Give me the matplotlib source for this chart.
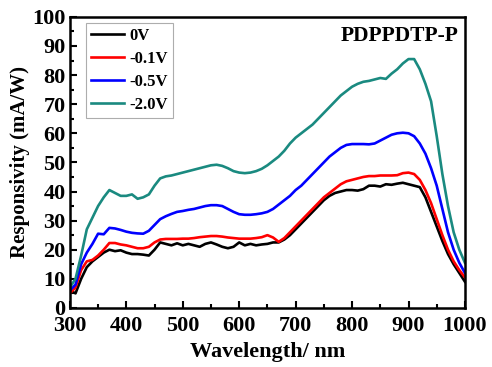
import numpy as np
import matplotlib
matplotlib.use("Agg")
from matplotlib import pyplot as plt
from matplotlib.ticker import MultipleLocator

plt.rcParams['font.family'] = ['Liberation Serif', 'DejaVu Serif']
plt.rcParams['font.weight'] = 'bold'

wavelength = np.arange(300, 1001, 10)

# responsivity in mA/W at each bias
r_0V = [6, 5, 10, 14, 16, 17.5, 19, 20, 19.5, 19.8,
        19, 18.5, 18.5, 18.3, 18, 20, 22.5, 22, 21.5, 22.2,
        21.5, 22, 21.5, 21, 22, 22.5, 21.8, 21, 20.5, 21,
        22.5, 21.5, 22, 21.5, 21.8, 22, 22.5, 22.5, 23.5, 25,
        27, 29, 31, 33, 35, 37, 38.5, 39.5, 40, 40.5,
        40.5, 40.3, 40.8, 42, 42, 41.7, 42.5, 42.3, 42.7, 43,
        42.5, 42, 41.5, 38, 33, 28, 23, 18.5, 15, 12, 9]
r_01V = [5, 7, 13, 16, 16.5, 18, 20, 22.3, 22.3, 21.8,
         21.5, 21, 20.5, 20.5, 21, 22.5, 23.5, 23.7, 23.7, 23.7,
         23.8, 23.8, 24, 24.3, 24.5, 24.7, 24.7, 24.5, 24.2, 24,
         23.8, 23.8, 23.8, 24, 24.3, 25, 24.2, 22.7, 24, 26,
         28, 30, 32, 34, 36, 38, 39.5, 41, 42.5, 43.5,
         44, 44.5, 45, 45.3, 45.3, 45.5, 45.5, 45.5, 45.6, 46.3,
         46.5, 46, 44, 40.5, 36, 30.5, 25, 20, 16, 13, 10.5]
r_05V = [6, 8, 15, 19, 22, 25.5, 25.3, 27.5, 27.3, 26.8,
         26.2, 25.8, 25.6, 25.5, 26.5, 28.5, 30.5, 31.5, 32.3, 33,
         33.3, 33.7, 34, 34.5, 35, 35.3, 35.3, 35, 34, 33,
         32.2, 32, 32, 32.2, 32.5, 33, 34, 35.5, 37, 38.5,
         40.5, 42, 44, 46, 48, 50, 52, 53.5, 55, 56,
         56.3, 56.3, 56.3, 56.2, 56.5, 57.5, 58.5, 59.5, 60, 60.2,
         60, 59, 56.5, 53, 48, 42, 34, 26, 20, 15.5, 12]
r_20V = [7, 10, 18, 27, 31, 35, 38, 40.5, 39.5, 38.5,
         38.5, 39, 37.5, 38, 39, 42, 44.5, 45.2, 45.5, 46,
         46.5, 47, 47.5, 48, 48.5, 49, 49.2, 48.8, 48, 47,
         46.5, 46.3, 46.5, 47, 47.8, 49, 50.5, 52, 54, 56.5,
         58.5, 60, 61.5, 63, 65, 67, 69, 71, 73, 74.5,
         76, 77, 77.7, 78, 78.5, 79, 78.7, 80.5, 82, 84,
         85.5, 85.5, 82, 77, 71, 59, 46, 35, 26, 20, 15.5]

labels = ["0V", "-0.1V", "-0.5V", "-2.0V"]
colors = ["black", "#ff0000", "#0000ff", "#1a8a80"]

fig, ax = plt.subplots(figsize=(4.92, 3.67), dpi=100)
fig.subplots_adjust(left=0.142, right=0.945, top=0.954, bottom=0.161)

for r, lab, c in zip([r_0V, r_01V, r_05V, r_20V], labels, colors):
    ax.plot(wavelength, r, color=c, lw=1.9, label=lab)

ax.set_xlim(300, 1000)
ax.set_ylim(0, 100)
ax.xaxis.set_major_locator(MultipleLocator(100))
ax.xaxis.set_minor_locator(MultipleLocator(50))
ax.yaxis.set_major_locator(MultipleLocator(10))
ax.yaxis.set_minor_locator(MultipleLocator(5))
ax.tick_params(which='both', direction='in', width=1.5, labelsize=16)
ax.tick_params(axis='x', pad=6)
ax.tick_params(axis='y', pad=3)
ax.tick_params(which='major', length=5)
ax.tick_params(which='minor', length=3)
for s in ax.spines.values():
    s.set_linewidth(1.8)

ax.set_xlabel("Wavelength/ nm", fontsize=16, fontweight='bold', labelpad=4)
ax.set_ylabel("Responsivity (mA/W)", fontsize=15, fontweight='bold', labelpad=2)

ax.text(0.985, 0.935, "PDPPDTP-P", transform=ax.transAxes, ha='right', va='center',
        fontsize=15.5, fontweight='bold')

leg = ax.legend(loc='upper left', bbox_to_anchor=(0.04, 0.98), fontsize=12,
                frameon=True, fancybox=False, handlelength=2.0, handletextpad=0.3,
                labelspacing=0.42, borderpad=0.3, borderaxespad=0)
leg.get_frame().set_edgecolor('#999999')
leg.get_frame().set_linewidth(0.8)
for t in leg.get_texts():
    t.set_fontweight('bold')

fig.savefig("out.png", dpi=100)
